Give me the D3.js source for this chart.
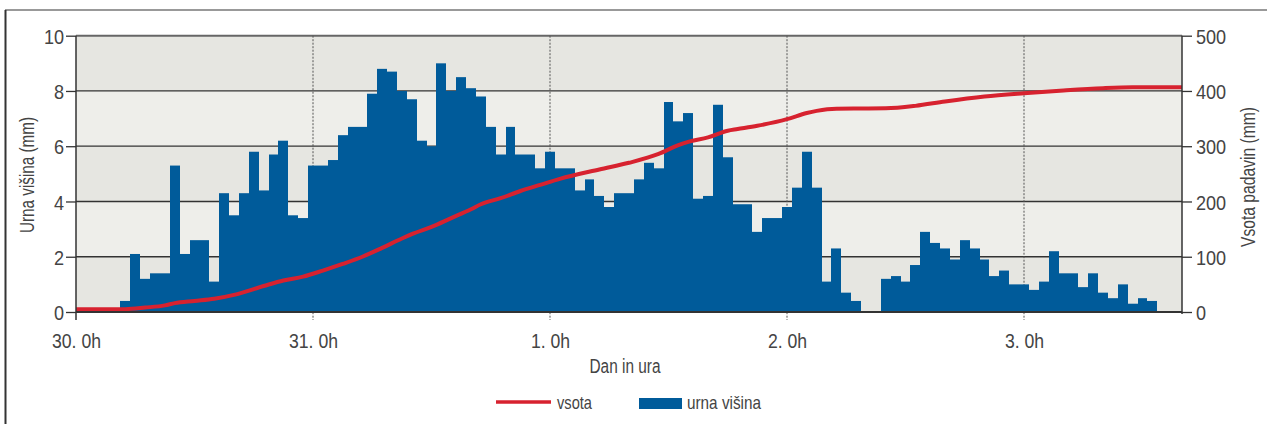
<!DOCTYPE html>
<html>
<head>
<meta charset="utf-8">
<script src="https://cdn.jsdelivr.net/npm/d3@7"></script>
<style>
  html, body { margin: 0; padding: 0; background: #fff; }
  svg { display: block; }
  text { font-family: "Liberation Sans", Arial, sans-serif; fill: #444; }
</style>
</head>
<body>
<svg id="chart" width="1267" height="424"></svg>
<script>
// Hourly precipitation (mm), one value per hour starting at hour 5 of day 30
const firstHour = 5;
const hourlyRain = [
  0.4, 2.1, 1.2, 1.4, 1.4, 5.3, 2.1, 2.6, 2.6, 1.1,
  4.3, 3.5, 4.3, 5.8, 4.4, 5.7, 6.2, 3.5, 3.4, 5.3,
  5.3, 5.5, 6.4, 6.7, 6.7, 7.9, 8.8, 8.7, 8.0, 7.7,
  6.2, 6.0, 9.0, 8.0, 8.5, 8.1, 7.8, 6.7, 5.7, 6.7,
  5.7, 5.7, 5.2, 5.8, 5.2, 5.2, 4.4, 4.8, 4.2, 3.8,
  4.3, 4.3, 4.8, 5.4, 5.2, 7.6, 6.9, 7.2, 4.1, 4.2,
  7.5, 5.6, 3.9, 3.9, 2.9, 3.4, 3.4, 3.8, 4.5, 5.8,
  4.5, 1.1, 2.3, 0.7, 0.4, 0, 0, 1.2, 1.3, 1.1,
  1.7, 2.9, 2.5, 2.3, 1.9, 2.6, 2.3, 1.9, 1.3, 1.5,
  1.0, 1.0, 0.8, 1.1, 2.2, 1.4, 1.4, 0.9, 1.4, 0.7,
  0.5, 1.0, 0.3, 0.5, 0.4
];

// Accumulated precipitation (mm) at hours counted from 30. 0h
const sumHours = [0, 4, 5, 7, 9, 10, 12, 14, 16, 19, 21, 23, 25, 27, 29, 31, 33, 34, 36, 38, 40, 41,
  43, 45, 47, 49, 53, 56, 59, 61, 62, 64, 66, 67, 69, 72, 74, 75, 77, 82, 85, 88, 92, 96, 100, 104, 107, 112];
const sumValues = [4.8, 4.8, 5, 8, 12, 16, 20, 24, 31, 47, 57, 64, 75, 87, 100, 116, 133, 141, 154, 170, 186, 195,
  206, 219, 230, 241, 258, 270, 286, 302, 308, 316, 328, 331, 337, 349, 360, 364, 368, 368.5, 373, 381, 390, 396, 401, 405, 406.5, 406.5];

// Axis ticks
const dayTicks = [0, 24, 48, 72, 96];
const dayLabels = ["30. 0h", "31. 0h", "1. 0h", "2. 0h", "3. 0h"];
const leftTicks = [0, 2, 4, 6, 8, 10];
const rightTicks = [0, 100, 200, 300, 400, 500];

const svg = d3.select("#chart");
const plot = { left: 76, right: 1182, top: 35.7, bottom: 312 };

const x = d3.scaleLinear().domain([0, 112]).range([plot.left, plot.right]);
const yL = d3.scaleLinear().domain([0, 10]).range([plot.bottom, plot.top]);
const yR = d3.scaleLinear().domain([0, 500]).range([plot.bottom, plot.top]);

// Squeeze text horizontally to get a narrow face from a regular one
function condense(sel, k) {
  sel.each(function () {
    const w = this.getComputedTextLength();
    this.setAttribute("textLength", w * k);
    this.setAttribute("lengthAdjust", "spacingAndGlyphs");
  });
}

// Outer frame
svg.append("line").attr("x1", 5).attr("x2", 1267).attr("y1", 10).attr("y2", 10)
  .attr("stroke", "#777").attr("stroke-width", 1.5);
svg.append("line").attr("x1", 5.5).attr("x2", 5.5).attr("y1", 10).attr("y2", 424)
  .attr("stroke", "#333").attr("stroke-width", 2);

// Alternating background bands
const bands = d3.pairs(leftTicks);
svg.append("g").selectAll("rect").data(bands).join("rect")
  .attr("x", plot.left).attr("width", plot.right - plot.left)
  .attr("y", d => yL(d[1])).attr("height", d => yL(d[0]) - yL(d[1]))
  .attr("fill", (d, i) => i % 2 === 0 ? "#e6e6e1" : "#eeeeea");

// Horizontal grid lines
svg.append("g").selectAll("line").data(leftTicks.slice(1)).join("line")
  .attr("x1", plot.left).attr("x2", plot.right)
  .attr("y1", d => yL(d)).attr("y2", d => yL(d))
  .attr("stroke", d => d === 10 ? "#666" : "#333")
  .attr("stroke-width", d => d === 10 ? 2 : 1.3);

// Day separators (dotted)
svg.append("g").selectAll("line").data(dayTicks.slice(1)).join("line")
  .attr("x1", d => x(d)).attr("x2", d => x(d))
  .attr("y1", plot.top).attr("y2", plot.bottom + 8)
  .attr("stroke", "#555").attr("stroke-width", 1)
  .attr("stroke-dasharray", "2,1.5");

// Hourly bars, each centred on its hour; edges snapped to whole pixels so neighbours touch
const edge = h => Math.round(x(h));
svg.append("g")
  .selectAll("rect").data(hourlyRain).join("rect")
  .attr("x", (d, i) => edge(firstHour + i - 0.5))
  .attr("width", (d, i) => edge(firstHour + i + 0.5) - edge(firstHour + i - 0.5))
  .attr("y", d => yL(d))
  .attr("height", d => yL(0) - yL(d))
  .attr("fill", "#005b9a");

// Accumulated precipitation line
const line = d3.line()
  .x((d, i) => x(sumHours[i]))
  .y(d => yR(d))
  .curve(d3.curveMonotoneX);
svg.append("path").datum(sumValues)
  .attr("d", line)
  .attr("fill", "none")
  .attr("stroke", "#d7222f")
  .attr("stroke-width", 4)
  .attr("stroke-linejoin", "round");

// Baseline
svg.append("line").attr("x1", plot.left).attr("x2", plot.right)
  .attr("y1", plot.bottom).attr("y2", plot.bottom)
  .attr("stroke", "#333").attr("stroke-width", 2);

// Left axis
const axL = svg.append("g").attr("transform", `translate(${plot.left},0)`)
  .call(d3.axisLeft(yL).tickValues(leftTicks).tickSize(10).tickPadding(2).tickSizeOuter(0));
axL.select(".domain").attr("stroke", "#333").attr("stroke-width", 1.5)
  .attr("d", `M0,${plot.top}V${plot.bottom + 8}`);
axL.selectAll(".tick line").attr("stroke", "#333").attr("stroke-width", 1.3);
axL.selectAll(".tick text").attr("font-size", 21).attr("fill", "#444").attr("dy", "0.36em")
  .call(condense, 0.86);

// Right axis
const axR = svg.append("g").attr("transform", `translate(${plot.right},0)`)
  .call(d3.axisRight(yR).tickValues(rightTicks).tickSize(10).tickPadding(4).tickSizeOuter(0));
axR.select(".domain").attr("stroke", "#333").attr("stroke-width", 1.5)
  .attr("d", `M0,${plot.top}V${plot.bottom + 2}`);
axR.selectAll(".tick line").attr("stroke", "#333").attr("stroke-width", 1.3);
axR.selectAll(".tick text").attr("font-size", 21).attr("fill", "#444").attr("dy", "0.36em")
  .call(condense, 0.86);

// Bottom axis labels
const axB = svg.append("g").attr("transform", `translate(0,${plot.bottom})`)
  .call(d3.axisBottom(x).tickValues(dayTicks).tickFormat((d, i) => dayLabels[i]).tickSize(0).tickPadding(0));
axB.select(".domain").remove();
axB.selectAll(".tick text").attr("font-size", 21).attr("fill", "#444")
  .attr("y", 36).attr("dy", null)
  .call(condense, 0.84);

// Axis titles
svg.append("text").attr("transform", `translate(34,175) rotate(-90)`)
  .attr("text-anchor", "middle").attr("font-size", 19.5).attr("fill", "#555")
  .attr("textLength", 116).attr("lengthAdjust", "spacingAndGlyphs").text("Urna višina (mm)");
svg.append("text").attr("transform", `translate(1255,177) rotate(-90)`)
  .attr("text-anchor", "middle").attr("font-size", 19.5).attr("fill", "#555")
  .attr("textLength", 140).attr("lengthAdjust", "spacingAndGlyphs").text("Vsota padavin (mm)");
svg.append("text").attr("x", 625).attr("y", 373)
  .attr("text-anchor", "middle").attr("font-size", 19.5).attr("fill", "#444")
  .attr("textLength", 71).attr("lengthAdjust", "spacingAndGlyphs").text("Dan in ura");

// Legend
const legend = svg.append("g");
legend.append("line").attr("x1", 496).attr("x2", 551).attr("y1", 402).attr("y2", 402)
  .attr("stroke", "#d7222f").attr("stroke-width", 3.5);
legend.append("text").attr("x", 557).attr("y", 409).attr("font-size", 19)
  .attr("textLength", 35).attr("lengthAdjust", "spacingAndGlyphs").text("vsota");
legend.append("rect").attr("x", 639).attr("y", 398).attr("width", 43).attr("height", 11)
  .attr("fill", "#005b9a");
legend.append("text").attr("x", 687).attr("y", 409).attr("font-size", 19)
  .attr("textLength", 74).attr("lengthAdjust", "spacingAndGlyphs").text("urna višina");
</script>
</body>
</html>
